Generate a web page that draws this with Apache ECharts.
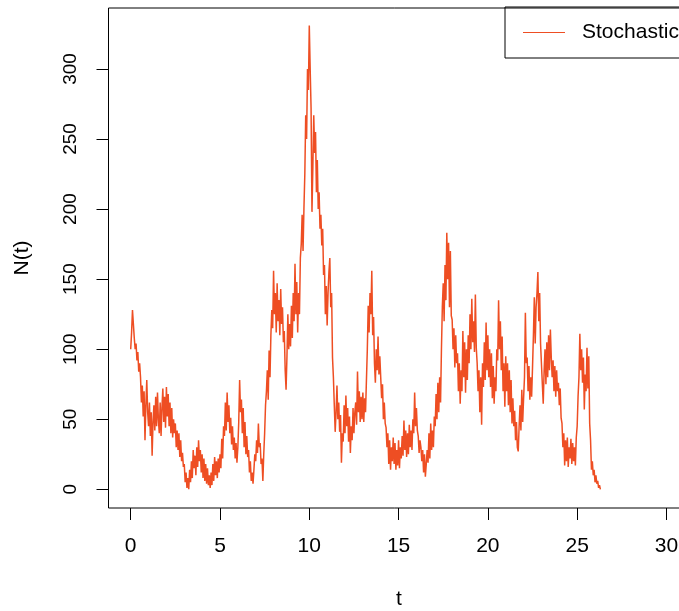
<!DOCTYPE html>
<html><head><meta charset="utf-8">
<script src="https://cdn.jsdelivr.net/npm/echarts@6/dist/echarts.min.js"></script>
<style>html,body{margin:0;padding:0;background:#fff}#c{width:679px;height:611px}</style>
</head><body><div id="c"></div>
<script>
const seriesName = 'Stochastic';
const tStart = 0;
const tStep = 0.05;
const nValues = [
  100,112,128,118,108,100,104,92,98,84,90,80,62,74,52,70,35,60,78,55,
  45,62,38,55,24,48,60,42,66,45,69,50,40,62,38,58,72,48,66,44,
  73,52,68,45,62,40,58,37,50,40,47,30,42,28,40,23,35,20,26,16,
  18,5,12,1,8,0,14,5,20,8,28,15,24,10,30,16,35,20,28,12,
  25,8,22,6,18,4,15,3,10,1,12,3,18,6,23,10,20,8,22,12,
  25,15,36,22,45,38,62,42,69,48,60,40,51,32,45,28,37,22,33,19,
  30,48,78,55,64,40,58,30,48,25,38,23,28,12,20,6,12,4,14,25,
  20,35,26,47,30,33,18,22,6,25,40,60,70,85,64,99,80,110,128,115,
  156,125,140,112,147,120,135,110,143,118,130,105,113,85,71,95,125,100,118,102,
  131,108,140,120,161,125,148,112,140,125,165,175,196,170,200,225,267,250,300,285,
  331,300,272,198,230,267,240,255,212,235,200,212,186,196,174,186,153,160,125,145,
  117,140,155,165,130,140,94,80,60,41,55,74,50,62,41,53,19,40,34,60,
  40,67,45,58,34,52,26,45,35,58,40,55,62,46,84,55,70,48,66,50,
  69,48,65,55,78,100,131,112,140,125,156,110,123,90,76,100,85,109,82,95,
  80,65,75,50,62,47,44,30,40,18,35,14,30,20,37,18,33,14,28,17,
  35,15,30,22,38,24,49,28,42,23,40,25,46,30,42,28,50,40,69,45,
  58,42,38,26,35,30,20,28,12,25,9,18,28,19,40,22,47,28,42,30,
  52,45,68,50,76,55,80,62,100,130,147,120,160,135,183,150,176,130,170,124,
  121,100,115,87,110,90,97,70,90,61,85,70,113,80,105,69,100,78,110,90,
  125,100,136,105,120,98,139,101,90,70,85,55,80,46,90,73,105,78,119,85,
  110,80,100,73,97,65,88,61,80,70,100,92,135,100,120,85,109,70,90,59,
  95,70,90,60,85,55,78,47,65,45,56,35,48,30,27,45,60,42,71,48,
  65,80,126,90,94,70,88,64,80,66,87,110,137,104,130,140,155,120,140,104,
  104,75,61,85,100,75,105,80,110,85,114,94,80,92,70,88,66,85,70,76,
  60,72,51,47,30,40,17,35,20,37,16,30,22,36,18,33,20,30,17,37,
  45,66,80,111,85,100,76,94,57,82,70,101,72,95,47,35,14,20,10,14,
  5,10,4,6,1,3,0
];
const xTicks = [0, 5, 10, 15, 20, 25, 30];
const yTicks = [0, 50, 100, 150, 200, 250, 300];
const xTitle = 't';
const yTitle = 'N(t)';

const data = nValues.map((v, i) => [+(tStart + i * tStep).toFixed(3), v]);
const FONT = '"Liberation Sans", Arial, Helvetica, sans-serif';
const LINE = '#EE4E23';

const chart = echarts.init(document.getElementById('c'), null, {renderer: 'canvas'});
chart.setOption({
  animation: false,
  backgroundColor: '#fff',
  grid: {left: 108.5, top: 8, width: 581, height: 500, show: true,
         outerBoundsMode: 'none', containLabel: false,
         borderColor: '#000', borderWidth: 1, backgroundColor: 'transparent'},
  legend: {
    show: true, left: 505, top: 7,
    data: [{name: seriesName, icon: 'rect'}],
    itemWidth: 42, itemHeight: 1.2,
    borderColor: '#000', borderWidth: 1,
    padding: [15, 30, 15, 18],
    textStyle: {fontSize: 21, color: '#000', fontFamily: FONT, padding: [0, 0, 0, 12]}
  },
  xAxis: {
    type: 'value', min: -1.243, max: 31.29,
    axisLine: {show: false, onZero: false},
    splitLine: {show: false},
    axisTick: {show: true, customValues: xTicks, length: 12, lineStyle: {color: '#000', width: 1}},
    axisLabel: {customValues: xTicks, margin: 28, fontSize: 21, color: '#000', fontFamily: FONT},
    name: xTitle, nameLocation: 'middle', nameGap: 81,
    nameTextStyle: {fontSize: 21, color: '#000', fontFamily: FONT}
  },
  yAxis: {
    type: 'value', min: -13.35, max: 343.5,
    axisLine: {show: false, onZero: false},
    splitLine: {show: false},
    axisTick: {show: true, customValues: yTicks, length: 12, lineStyle: {color: '#000', width: 1}},
    axisLabel: {customValues: yTicks, rotate: 90, margin: 28, fontSize: 19, color: '#000', fontFamily: FONT},
    name: yTitle, nameLocation: 'middle', nameGap: 76,
    nameTextStyle: {fontSize: 21, color: '#000', fontFamily: FONT}
  },
  series: [{
    name: seriesName, type: 'line', data: data,
    showSymbol: false, symbol: 'none', sampling: null,
    lineStyle: {color: LINE, width: 1.5}, itemStyle: {color: LINE},
    emphasis: {disabled: true}
  }]
});
</script>
</body></html>
